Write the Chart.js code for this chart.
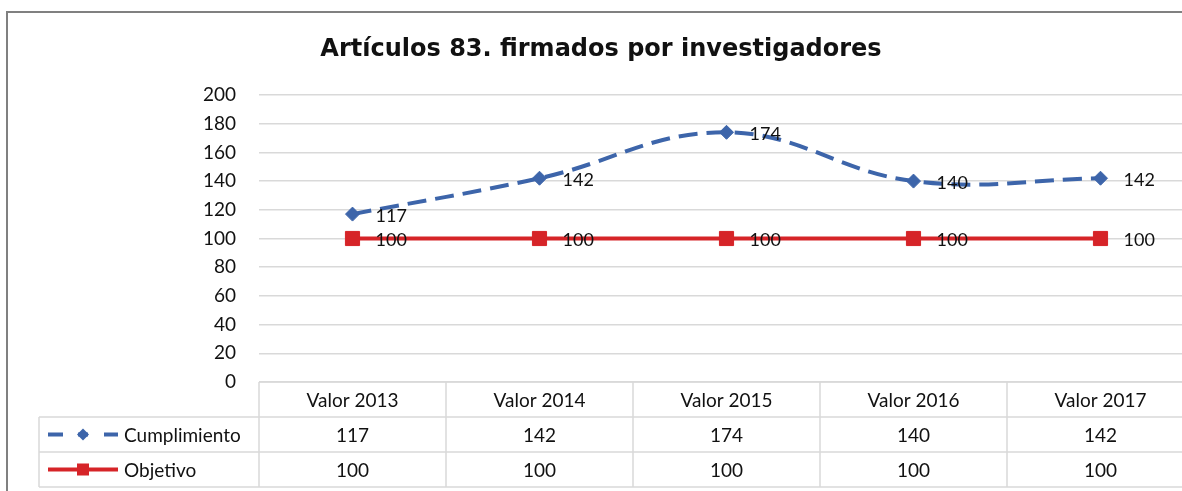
<!DOCTYPE html>
<html>
<head>
<meta charset="utf-8">
<script src="https://cdn.jsdelivr.net/npm/chart.js@4"></script>
<style>
  html, body { margin: 0; padding: 0; background: #fff; }
  #wrap { width: 1182px; height: 491px; overflow: hidden; position: relative; }
  canvas { display: block; }
</style>
</head>
<body>
<div id="wrap"><canvas id="grafico" width="1230" height="491"></canvas></div>
<script>
// Datos del gráfico
const titulo = "Artículos 83. firmados por investigadores";
const categorias = ["Valor 2013", "Valor 2014", "Valor 2015", "Valor 2016", "Valor 2017"];
const cumplimiento = [117, 142, 174, 140, 142];
const objetivo = [100, 100, 100, 100, 100];
const nombresSeries = ["Cumplimiento", "Objetivo"];

const AZUL = "#3d65aa";
const ROJO = "#d62428";
const GRIS_REJILLA = "#d9d9d9";
const FUENTE = "Lato, 'Open Sans', sans-serif";

// Título, marco exterior, etiquetas y tabla de datos
const pluginExtras = {
  id: "extras",
  afterDatasetsDraw(chart) {
    const ctx = chart.ctx;
    ctx.save();
    ctx.fillStyle = "#111";
    ctx.font = "18px " + FUENTE;
    ctx.textAlign = "left";
    ctx.textBaseline = "middle";
    chart.data.datasets.forEach((ds, i) => {
      chart.getDatasetMeta(i).data.forEach((pt, j) => {
        ctx.fillText(String(ds.data[j]), pt.x + 23, pt.y + 2);
      });
    });
    ctx.restore();
  },
  afterDraw(chart) {
    const ctx = chart.ctx;
    const area = chart.chartArea;
    const xs = chart.scales.x;
    ctx.save();

    // marco
    ctx.strokeStyle = "#808080";
    ctx.lineWidth = 2;
    ctx.beginPath();
    ctx.moveTo(7, chart.height + 5);
    ctx.lineTo(7, 12);
    ctx.lineTo(chart.width + 5, 12);
    ctx.stroke();

    // título
    ctx.fillStyle = "#111";
    ctx.font = "bold 24px 'DejaVu Sans', sans-serif";
    ctx.textAlign = "center";
    ctx.textBaseline = "middle";
    ctx.fillText(titulo, 601, 50);

    // tabla
    const filaH = 35;
    const top = area.bottom;
    const colW = area.width / categorias.length;
    const izq = 39;
    ctx.strokeStyle = GRIS_REJILLA;
    ctx.lineWidth = 1.5;
    ctx.beginPath();
    ctx.moveTo(area.left, top); ctx.lineTo(area.right, top);
    for (let r = 1; r <= 3; r++) {
      ctx.moveTo(izq, top + r * filaH); ctx.lineTo(area.right, top + r * filaH);
    }
    ctx.moveTo(izq, top + filaH); ctx.lineTo(izq, top + 3 * filaH);
    for (let c = 0; c <= categorias.length; c++) {
      const x = area.left + c * colW;
      ctx.moveTo(x, top); ctx.lineTo(x, top + 3 * filaH);
    }
    ctx.stroke();

    ctx.fillStyle = "#111";
    ctx.font = "19px " + FUENTE;
    ctx.textAlign = "center";
    ctx.textBaseline = "middle";
    categorias.forEach((c, i) => {
      const cx = xs.getPixelForValue(i);
      ctx.fillText(c, cx, top + filaH / 2 + 1);
      ctx.fillText(String(cumplimiento[i]), cx, top + filaH * 1.5 + 1);
      ctx.fillText(String(objetivo[i]), cx, top + filaH * 2.5 + 1);
    });

    // leyenda dentro de la tabla
    const y1 = top + filaH * 1.5;
    const y2 = top + filaH * 2.5;
    ctx.strokeStyle = AZUL;
    ctx.lineWidth = 4;
    ctx.beginPath();
    ctx.moveTo(48, y1); ctx.lineTo(63, y1);
    ctx.moveTo(104, y1); ctx.lineTo(118, y1);
    ctx.moveTo(78, y1); ctx.lineTo(88, y1);
    ctx.stroke();
    ctx.fillStyle = AZUL;
    ctx.beginPath();
    ctx.moveTo(77, y1); ctx.lineTo(83, y1 - 6); ctx.lineTo(89, y1); ctx.lineTo(83, y1 + 6);
    ctx.closePath(); ctx.fill();

    ctx.strokeStyle = ROJO;
    ctx.lineWidth = 4;
    ctx.beginPath();
    ctx.moveTo(48, y2); ctx.lineTo(118, y2);
    ctx.stroke();
    ctx.fillStyle = ROJO;
    ctx.fillRect(77, y2 - 6, 12, 12);

    ctx.fillStyle = "#111";
    ctx.textAlign = "left";
    ctx.fillText(nombresSeries[0], 124, y1 + 1);
    ctx.fillText(nombresSeries[1], 124, y2 + 1);
    ctx.restore();
  }
};

new Chart(document.getElementById("grafico").getContext("2d"), {
  type: "line",
  data: {
    labels: categorias,
    datasets: [
      {
        label: nombresSeries[0],
        data: cumplimiento,
        borderColor: AZUL,
        backgroundColor: AZUL,
        borderWidth: 4,
        borderDash: [19, 9],
        tension: 0.4,
        pointStyle: "rectRot",
        pointRadius: 7,
        pointBorderWidth: 1
      },
      {
        label: nombresSeries[1],
        data: objetivo,
        borderColor: ROJO,
        backgroundColor: ROJO,
        borderWidth: 4,
        tension: 0,
        pointStyle: "rect",
        pointRadius: 10,
        pointBorderWidth: 1
      }
    ]
  },
  options: {
    responsive: false,
    animation: false,
    layout: { padding: { left: 0, right: 36, top: 95, bottom: 109 } },
    plugins: { legend: { display: false }, title: { display: false }, tooltip: { enabled: false } },
    scales: {
      x: { display: false, offset: true },
      y: {
        min: 0,
        max: 200,
        ticks: { stepSize: 20, color: "#111", font: { family: FUENTE, size: 19 }, padding: 23 },
        grid: { color: GRIS_REJILLA, lineWidth: 1.5, drawTicks: false },
        border: { display: false },
        afterFit(scale) { scale.width = 259; }
      }
    }
  },
  plugins: [pluginExtras]
});
</script>
</body>
</html>
